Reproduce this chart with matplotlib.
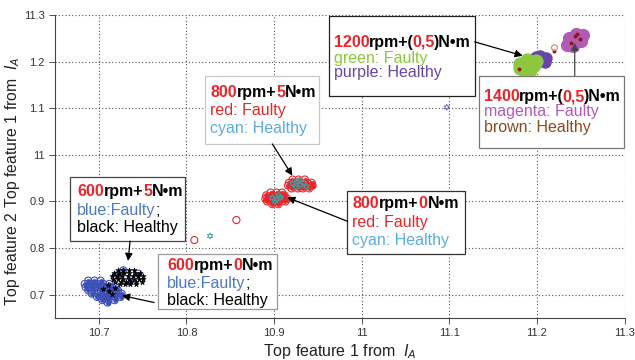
import matplotlib
matplotlib.use("Agg")
import matplotlib.pyplot as plt
from matplotlib.patches import Rectangle

plt.rcParams["font.family"] = ["Liberation Sans", "DejaVu Sans"]
plt.rcParams["mathtext.fontset"] = "custom"
plt.rcParams["mathtext.rm"] = "Liberation Sans"
plt.rcParams["mathtext.it"] = "Liberation Sans:italic"

RED, CYAN_T, BLUE_T = "#e8262a", "#5aace6", "#4d79c7"
GREEN, PURPLE, MAGENTA, BROWN = "#8dc63f", "#6646a8", "#b35ab5", "#8b4a1e"
HEX = (6, 1, 0)   # six-pointed star

# ---- data ----
xticks = [10.7, 10.8, 10.9, 11.0, 11.1, 11.2, 11.3]
xtick_labels = ["10.7", "10.8", "10.9", "11", "11.1", "11.2", "11.3"]
yticks = [0.7, 0.8, 0.9, 1.0, 1.1, 1.2, 1.3]
ytick_labels = ["0.7", "0.8", "0.9", "11", "1.1", "1.2", "11.3"]

# 600 rpm, faulty (blue)
blue_x = [10.688, 10.695, 10.702,
          10.684, 10.691, 10.698, 10.705, 10.712,
          10.685, 10.692, 10.699, 10.706, 10.713, 10.719,
          10.688, 10.695, 10.702, 10.709, 10.716, 10.722,
          10.692, 10.699, 10.706, 10.713, 10.720, 10.726,
          10.698, 10.705, 10.712, 10.719, 10.725,
          10.704, 10.711, 10.718, 10.710,
          10.722, 10.735, 10.745, 10.728]
blue_y = [0.730, 0.730, 0.730,
          0.723, 0.723, 0.723, 0.723, 0.723,
          0.716, 0.716, 0.716, 0.716, 0.716, 0.716,
          0.709, 0.709, 0.709, 0.709, 0.709, 0.709,
          0.702, 0.702, 0.702, 0.702, 0.702, 0.702,
          0.695, 0.695, 0.695, 0.695, 0.695,
          0.688, 0.688, 0.688, 0.683,
          0.742, 0.728, 0.745, 0.752]
# 600 rpm, healthy (black)
black_x = [10.722, 10.728, 10.734, 10.740,
           10.717, 10.723, 10.729, 10.735, 10.741, 10.747,
           10.715, 10.721, 10.727, 10.733, 10.739, 10.745, 10.750,
           10.716, 10.722, 10.728, 10.734, 10.740, 10.746, 10.751,
           10.719, 10.725, 10.731, 10.737, 10.743, 10.749,
           10.724, 10.730, 10.736, 10.742,
           10.705, 10.712, 10.718, 10.710, 10.715]
black_y = [0.752, 0.752, 0.752, 0.752,
           0.746, 0.746, 0.746, 0.746, 0.746, 0.746,
           0.740, 0.740, 0.740, 0.740, 0.740, 0.740, 0.740,
           0.734, 0.734, 0.734, 0.734, 0.734, 0.734, 0.734,
           0.728, 0.728, 0.728, 0.728, 0.728, 0.728,
           0.722, 0.722, 0.722, 0.722,
           0.712, 0.708, 0.715, 0.720, 0.702]
# 800 rpm, faulty (red)
red_x = [10.921, 10.928, 10.935,
         10.917, 10.924, 10.931, 10.938, 10.943,
         10.916, 10.923, 10.930, 10.937, 10.944,
         10.920, 10.927, 10.933, 10.940,
         10.896, 10.903, 10.909,
         10.891, 10.898, 10.905, 10.912,
         10.890, 10.897, 10.904, 10.911, 10.915,
         10.892, 10.899, 10.906, 10.913,
         10.898, 10.905]
red_y = [0.947, 0.947, 0.947,
         0.940, 0.940, 0.940, 0.940, 0.940,
         0.934, 0.934, 0.934, 0.934, 0.934,
         0.928, 0.928, 0.928, 0.928,
         0.919, 0.919, 0.919,
         0.913, 0.913, 0.913, 0.913,
         0.906, 0.906, 0.906, 0.906, 0.906,
         0.900, 0.900, 0.900, 0.900,
         0.894, 0.894]
red_out_x = [10.857, 10.809]
red_out_y = [0.860, 0.817]
# 800 rpm, healthy (cyan)
cyan_x = [10.921, 10.926, 10.930, 10.934, 10.925, 10.937, 10.929,
          10.898, 10.903, 10.907, 10.901, 10.905, 10.827]
cyan_y = [0.938, 0.943, 0.935, 0.940, 0.930, 0.932, 0.947,
          0.908, 0.904, 0.909, 0.900, 0.913, 0.826]
# 1200 rpm, healthy (purple)
purple_x = [11.199, 11.204, 11.210, 11.209, 11.203, 11.197, 11.206]
purple_y = [1.211, 1.213, 1.209, 1.200, 1.202, 1.206, 1.207]
purple_out_x = [11.167, 11.097]
purple_out_y = [1.160, 1.102]
# 1200 rpm, faulty (green)
green_x = [11.181, 11.186, 11.191, 11.195, 11.199, 11.185, 11.192, 11.197, 11.181, 11.189,
           11.188, 11.184]
green_y = [1.187, 1.192, 1.196, 1.200, 1.202, 1.185, 1.183, 1.192, 1.196, 1.204,
           1.190, 1.190]
# 1400 rpm, faulty (magenta)
magenta_x = [11.234, 11.239, 11.243, 11.248, 11.252, 11.241, 11.250, 11.237, 11.245,
             11.241, 11.246]
magenta_y = [1.236, 1.243, 1.247, 1.253, 1.257, 1.234, 1.245, 1.251, 1.260,
             1.245, 1.250]
# 1400 rpm, healthy (brown)
brown_x = [11.243, 11.249, 11.239, 11.246, 11.180, 11.220]
brown_y = [1.255, 1.249, 1.241, 1.260, 1.185, 1.223]
brown_out_x = [11.220]
brown_out_y = [1.230]

fig = plt.figure(figsize=(6.35, 3.6), dpi=100)
ax = fig.add_axes([0.0866, 0.117, 0.897, 0.841])

# dense clusters: filled core + hollow rim
ax.scatter(blue_x, blue_y, s=12, color="#3b4fb5", linewidths=0, zorder=2)
ax.scatter(blue_x, blue_y, s=26, facecolors="none", edgecolors="#3b4fb5", linewidths=0.8, zorder=2)
ax.scatter(black_x, black_y, s=16, marker="*", color="black", linewidths=0.4, zorder=3)
ax.scatter(red_x, red_y, s=12, color="#e8262a", linewidths=0, zorder=2)
ax.scatter(red_x, red_y, s=26, facecolors="none", edgecolors="#e8262a", linewidths=0.8, zorder=2)
ax.scatter(red_out_x, red_out_y, s=26, facecolors="none", edgecolors="#e8262a", linewidths=0.8, zorder=2)
ax.scatter(cyan_x, cyan_y, s=18, marker=HEX, facecolors="none", edgecolors="#3f9fa5", linewidths=0.7, zorder=3)
ax.scatter(purple_x, purple_y, s=80, color=PURPLE, linewidths=0, zorder=2)
ax.scatter(purple_out_x, purple_out_y, s=18, marker=HEX, facecolors="none", edgecolors="#7a62c0",
           linewidths=0.7, zorder=3)
ax.scatter(green_x, green_y, s=105, color=GREEN, linewidths=0, zorder=3)
ax.scatter(magenta_x, magenta_y, s=90, color=MAGENTA, linewidths=0, zorder=2)
ax.scatter(brown_x, brown_y, s=8, color="#8b1a10", linewidths=0, zorder=4)
ax.scatter(brown_out_x, brown_out_y, s=18, facecolors="none", edgecolors="#c98a6a", linewidths=0.8, zorder=4)

ax.set_xlim(10.65, 11.3)
ax.set_ylim(0.65, 1.3)
ax.set_xticks(xticks)
ax.set_xticklabels(xtick_labels)
ax.set_yticks(yticks)
ax.set_yticklabels(ytick_labels)
ax.tick_params(labelsize=8, colors="#333", length=4, width=0.6, direction="out")
ax.grid(True, linestyle=(0, (1, 2)), color="#555", lw=0.8)
ax.set_axisbelow(True)
for s in ("top", "right"):
    ax.spines[s].set_visible(False)
for s in ("left", "bottom"):
    ax.spines[s].set_color("#444")
    ax.spines[s].set_linewidth(0.8)

ax.set_xlabel("Top feature 1 from  $I_A$", fontsize=11.5, color="#222", labelpad=3)
ax.set_ylabel("Top feature 2 Top feature 1 from  $I_A$", fontsize=11.3, color="#222")
ax.yaxis.set_label_coords(-0.058, 0.45)


def label_box(x0, y0, x1, y1, edge, xt, bases, lines, fs=11.5):
    ax.add_patch(Rectangle((x0, y0), x1 - x0, y1 - y0, facecolor="white", edgecolor=edge,
                           lw=0.9, zorder=5, clip_on=False))
    for base, segs in zip(bases, lines):
        prev = None
        for seg in segs:
            txt, col, bold = seg[:3]
            dx = seg[3] if len(seg) > 3 else 0
            kw = dict(fontsize=fs, color=col, fontweight="bold" if bold else "normal", zorder=6)
            if prev is None:
                prev = ax.text(xt, base, txt, va="baseline", ha="left", **kw)
            else:
                prev = ax.annotate(txt, xy=(1, 0), xycoords=prev, xytext=(dx, 0),
                                   textcoords="offset points", va="bottom", ha="left", **kw)


def arrow(x0, y0, x1, y1, col="black"):
    ax.annotate("", xy=(x1, y1), xytext=(x0, y0), zorder=6,
                arrowprops=dict(arrowstyle="-|>", color=col, lw=0.9, mutation_scale=11,
                                shrinkA=0, shrinkB=0))


K = "black"
label_box(10.963, 1.1255, 11.129, 1.298, "#222", 10.968, [1.232, 1.198, 1.168],
          [[("1200", RED, True), ("rpm+(", K, True), ("0,5", RED, True, -1.5), (")N•m", K, True)],
           [("green: Faulty", GREEN, False)],
           [("purple: Healthy", PURPLE, False)]])
arrow(11.129, 1.2426, 11.1837, 1.2128)

label_box(11.1334, 1.0149, 11.2991, 1.1702, "#777", 11.139, [1.115, 1.083, 1.049],
          [[("1400", RED, True), ("rpm+(", K, True), ("0,5", RED, True, -1.5), (")N•m", K, True)],
           [("magenta: Faulty", MAGENTA, False)],
           [("brown: Healthy", BROWN, False)]])
arrow(11.2431, 1.1702, 11.2431, 1.2404, "#444")

label_box(10.8214, 1.0234, 10.9517, 1.1702, "#c8c8c8", 10.8271, [1.1234, 1.0851, 1.0468],
          [[("800", RED, True), ("rpm+", K, True), ("5", RED, True), ("N•m", K, True)],
           [("red: Faulty", RED, False)],
           [("cyan: Healthy", CYAN_T, False)]])
arrow(10.898, 1.0234, 10.9209, 0.9553)

label_box(10.9837, 0.7872, 11.1174, 0.9234, "#333", 10.9894, [0.8851, 0.8447, 0.8064],
          [[("800", RED, True), ("rpm+", K, True), ("0", RED, True), ("N•m", K, True)],
           [("red: Faulty", RED, False)],
           [("cyan: Healthy", CYAN_T, False)]])
arrow(10.9837, 0.8574, 10.9151, 0.9085)

label_box(10.6671, 0.8149, 10.7986, 0.9532, "#444", 10.6751, [0.9106, 0.8702, 0.834],
          [[("600", RED, True), ("rpm+", K, True), ("5", RED, True), ("N•m", K, True)],
           [("blue:Faulty", BLUE_T, False), (";", K, False)],
           [("black: Healthy", K, False)]])
arrow(10.7357, 0.8149, 10.7334, 0.7723)

label_box(10.7677, 0.6681, 10.9037, 0.7872, "#999", 10.778, [0.7532, 0.7149, 0.6766],
          [[("600", RED, True), ("rpm+", K, True), ("0", RED, True), ("N•m", K, True)],
           [("blue:Faulty", BLUE_T, False), (";", K, False)],
           [("black: Healthy", K, False)]])
arrow(10.7631, 0.683, 10.7266, 0.6979)

fig.savefig("out.png", dpi=100)
